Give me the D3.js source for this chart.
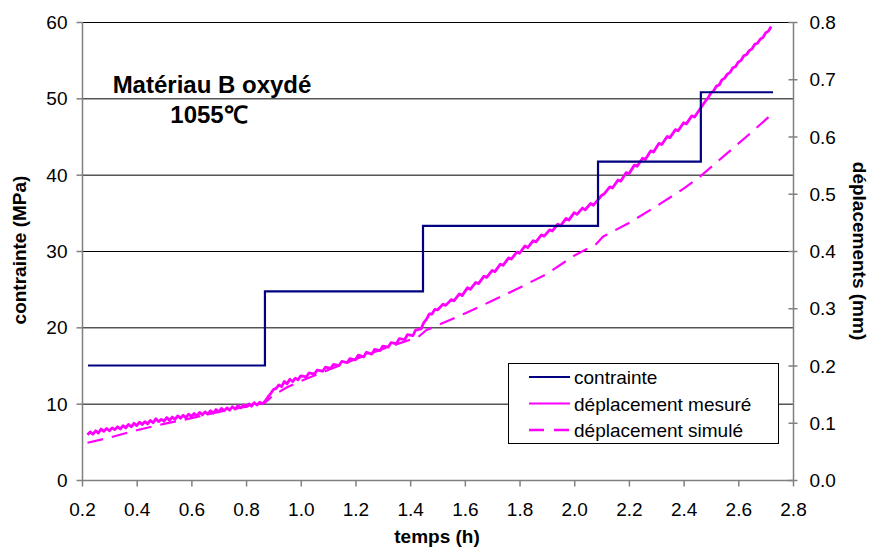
<!DOCTYPE html>
<html><head><meta charset="utf-8">
<script src="https://cdn.jsdelivr.net/npm/d3@7"></script>
<style>body{margin:0;background:#fff}svg{display:block}text{font-family:"Liberation Sans",Arial,sans-serif}</style>
</head><body>
<svg id="c" width="870" height="549"></svg>
<script>
// stress steps (t in h, MPa)
const contrainte = [[0.222,15],[0.869,15],[0.869,24.7],[1.447,24.7],[1.447,33.3],[2.087,33.3],[2.087,41.7],[2.463,41.7],[2.463,50.8],[2.727,50.8]];
// measured displacement (t in h, mm)
const deplMesure = [[0.22,0.079],[0.23,0.084],[0.24,0.080],[0.25,0.086],[0.26,0.082],[0.27,0.089],[0.28,0.085],[0.29,0.090],[0.30,0.086],[0.31,0.091],[0.32,0.088],[0.33,0.093],[0.34,0.089],[0.35,0.095],[0.36,0.091],[0.37,0.097],[0.38,0.093],[0.39,0.099],[0.40,0.095],[0.41,0.101],[0.42,0.097],[0.43,0.102],[0.44,0.098],[0.45,0.104],[0.46,0.100],[0.47,0.107],[0.48,0.102],[0.49,0.106],[0.50,0.103],[0.51,0.109],[0.52,0.104],[0.53,0.110],[0.54,0.106],[0.55,0.112],[0.56,0.108],[0.57,0.113],[0.58,0.109],[0.59,0.115],[0.60,0.111],[0.61,0.116],[0.62,0.112],[0.63,0.118],[0.64,0.114],[0.65,0.119],[0.66,0.115],[0.67,0.121],[0.68,0.117],[0.69,0.123],[0.70,0.119],[0.71,0.125],[0.72,0.121],[0.73,0.126],[0.74,0.122],[0.75,0.128],[0.76,0.124],[0.77,0.130],[0.78,0.126],[0.79,0.131],[0.80,0.128],[0.81,0.133],[0.82,0.129],[0.83,0.135],[0.84,0.131],[0.85,0.136],[0.86,0.133],[0.87,0.138],[0.88,0.145],[0.89,0.151],[0.90,0.158],[0.91,0.160],[0.92,0.166],[0.93,0.163],[0.94,0.172],[0.95,0.168],[0.96,0.176],[0.97,0.172],[0.98,0.178],[0.99,0.175],[1.00,0.182],[1.02,0.180],[1.03,0.187],[1.05,0.185],[1.06,0.192],[1.08,0.190],[1.09,0.197],[1.11,0.195],[1.12,0.202],[1.14,0.200],[1.15,0.207],[1.17,0.205],[1.18,0.212],[1.20,0.210],[1.21,0.218],[1.23,0.215],[1.24,0.223],[1.26,0.220],[1.27,0.228],[1.29,0.226],[1.30,0.234],[1.32,0.232],[1.33,0.240],[1.35,0.238],[1.36,0.247],[1.38,0.245],[1.39,0.254],[1.41,0.252],[1.42,0.262],[1.44,0.264],[1.45,0.275],[1.46,0.281],[1.47,0.290],[1.48,0.290],[1.49,0.298],[1.50,0.297],[1.52,0.307],[1.53,0.305],[1.55,0.315],[1.56,0.313],[1.58,0.325],[1.59,0.322],[1.61,0.336],[1.62,0.333],[1.64,0.345],[1.65,0.343],[1.67,0.356],[1.68,0.354],[1.70,0.366],[1.71,0.364],[1.73,0.377],[1.74,0.375],[1.76,0.388],[1.77,0.386],[1.79,0.398],[1.80,0.396],[1.82,0.409],[1.83,0.406],[1.85,0.418],[1.86,0.416],[1.88,0.428],[1.89,0.426],[1.91,0.437],[1.92,0.435],[1.94,0.447],[1.95,0.444],[1.97,0.457],[1.98,0.454],[2.00,0.467],[2.01,0.464],[2.03,0.475],[2.04,0.472],[2.06,0.483],[2.07,0.480],[2.09,0.491],[2.10,0.497],[2.11,0.500],[2.13,0.512],[2.14,0.510],[2.16,0.524],[2.17,0.522],[2.19,0.537],[2.20,0.535],[2.22,0.550],[2.23,0.548],[2.25,0.562],[2.26,0.560],[2.28,0.575],[2.29,0.573],[2.31,0.588],[2.32,0.586],[2.34,0.600],[2.35,0.598],[2.37,0.612],[2.38,0.610],[2.40,0.624],[2.41,0.622],[2.43,0.636],[2.44,0.634],[2.46,0.648],[2.47,0.655],[2.48,0.662],[2.49,0.668],[2.50,0.676],[2.51,0.680],[2.52,0.688],[2.53,0.690],[2.54,0.699],[2.55,0.702],[2.56,0.709],[2.57,0.712],[2.58,0.720],[2.59,0.722],[2.60,0.730],[2.61,0.733],[2.62,0.741],[2.63,0.743],[2.64,0.750],[2.65,0.753],[2.66,0.761],[2.67,0.763],[2.68,0.770],[2.69,0.773],[2.70,0.781],[2.71,0.784],[2.72,0.792]];
// simulated displacement (t in h, mm)
const deplSimule = [[0.22,0.065],[0.30,0.074],[0.40,0.087],[0.50,0.098],[0.60,0.108],[0.70,0.119],[0.80,0.128],[0.869,0.135],[0.90,0.148],[0.95,0.162],[1.00,0.173],[1.10,0.192],[1.20,0.211],[1.30,0.229],[1.40,0.245],[1.43,0.250],[1.46,0.262],[1.50,0.270],[1.60,0.291],[1.70,0.313],[1.80,0.336],[1.90,0.360],[2.00,0.392],[2.08,0.412],[2.105,0.425],[2.20,0.449],[2.30,0.478],[2.40,0.509],[2.46,0.530],[2.55,0.567],[2.65,0.608],[2.72,0.638]];
const xTicks = [0.2,0.4,0.6,0.8,1.0,1.2,1.4,1.6,1.8,2.0,2.2,2.4,2.6,2.8];
const yLeftTicks = [0,10,20,30,40,50,60];
const yRightTicks = [0,0.1,0.2,0.3,0.4,0.5,0.6,0.7,0.8];
const legendItems = ["contrainte","déplacement mesuré","déplacement simulé"];

const svg = d3.select("#c");
const L=82,R=793,T=22,B=480;
const x = d3.scaleLinear().domain([0.2,2.8]).range([L,R]);
const yL = d3.scaleLinear().domain([0,60]).range([B,T]);
const yR = d3.scaleLinear().domain([0,0.8]).range([B,T]);

// gridlines
svg.append("g").selectAll("line").data(yLeftTicks.filter(d=>d>0)).join("line")
  .attr("x1",L).attr("x2",R).attr("y1",d=>yL(d)+0.5).attr("y2",d=>yL(d)+0.5)
  .attr("stroke","#000").attr("stroke-width",1);

const fmt1 = d3.format(".1f");
const FS = 19;
// axes
const gx = svg.append("g").attr("transform",`translate(0,${B+0.5})`)
  .call(d3.axisBottom(x).tickValues(xTicks).tickFormat(fmt1).tickSize(6));
const gl = svg.append("g").attr("transform",`translate(${L+0.5},0)`)
  .call(d3.axisLeft(yL).tickValues(yLeftTicks).tickSize(6));
const gr = svg.append("g").attr("transform",`translate(${R+0.5},0)`)
  .call(d3.axisRight(yR).tickValues(yRightTicks).tickFormat(fmt1).tickSize(4));
gr.selectAll(".tick line").attr("x1",-5).attr("x2",4);
[gx,gl,gr].forEach(g=>{
  g.select(".domain").attr("stroke","#808080").attr("stroke-width",1.5);
  g.selectAll(".tick line").attr("stroke","#808080").attr("stroke-width",1.5);
  g.selectAll(".tick text").attr("font-size",FS).attr("fill","#000").attr("dy",null)
   .style("font-family","Liberation Sans, Arial, sans-serif");
});
gx.selectAll(".tick text").attr("y",35).attr("dy",null);
gl.selectAll(".tick text").attr("x",-15).attr("dy","0.35em");
gr.selectAll(".tick text").attr("x",16).attr("dy","0.35em");
gx.select(".domain").attr("d",`M${L},0H${R}`);
gl.select(".domain").attr("d",`M0,${B}V${T}`);
gr.select(".domain").attr("d",`M0,${B}V${T}`);

// lines
const lineL = d3.line().x(d=>x(d[0])).y(d=>yL(d[1]));
const lineR = d3.line().x(d=>x(d[0])).y(d=>yR(d[1]));
svg.append("path").datum(deplSimule).attr("d",lineR).attr("fill","none")
  .attr("stroke","#ff00ff").attr("stroke-width",2.2).attr("stroke-dasharray","16,9");
svg.append("path").datum(deplMesure).attr("d",lineR).attr("fill","none")
  .attr("stroke","#ff00ff").attr("stroke-width",2.8).attr("stroke-linejoin","round");
svg.append("path").datum(contrainte).attr("d",lineL).attr("fill","none")
  .attr("stroke","#000080").attr("stroke-width",2.2);

// annotation
svg.append("text").attr("x",212).attr("y",93).attr("text-anchor","middle")
  .attr("font-size",24).attr("font-weight","bold").text("Matériau B oxydé");
svg.append("text").attr("x",209).attr("y",123).attr("text-anchor","middle")
  .attr("font-size",24).attr("font-weight","bold").text("1055℃");

// axis titles
svg.append("text").attr("x",437).attr("y",543).attr("text-anchor","middle")
  .attr("font-size",FS).attr("font-weight","bold").text("temps (h)");
svg.append("text").attr("transform","translate(26,250) rotate(-90)").attr("text-anchor","middle")
  .attr("font-size",FS).attr("font-weight","bold").text("contrainte (MPa)");
svg.append("text").attr("transform","translate(853,251) rotate(90)").attr("text-anchor","middle")
  .attr("font-size",FS).attr("font-weight","bold").text("déplacements (mm)");

// legend
const lg = svg.append("g");
lg.append("rect").attr("x",508.5).attr("y",363.5).attr("width",270).attr("height",80)
  .attr("fill","#fff").attr("stroke","#000").attr("stroke-width",1);
const styles = [{c:"#000080",w:2.2,d:null},{c:"#ff00ff",w:2.2,d:null},{c:"#ff00ff",w:2.5,d:"15,10"}];
legendItems.forEach((t,i)=>{
  const yy = 377 + i*26.5;
  lg.append("line").attr("x1",529).attr("x2",570).attr("y1",yy).attr("y2",yy)
    .attr("stroke",styles[i].c).attr("stroke-width",styles[i].w).attr("stroke-dasharray",styles[i].d);
  lg.append("text").attr("x",574).attr("y",yy+7).attr("font-size",FS).text(t);
});
</script>
</body></html>
